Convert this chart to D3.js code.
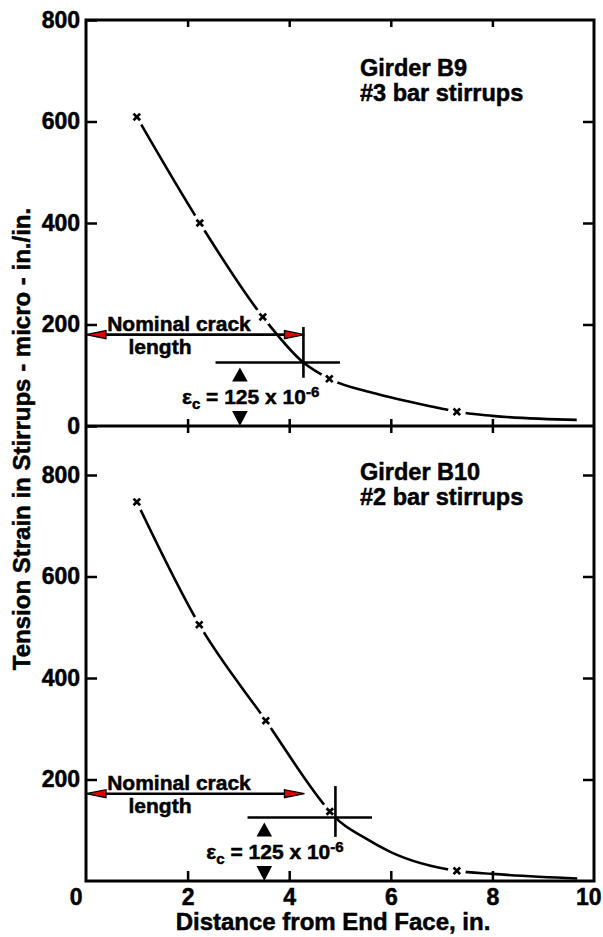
<!DOCTYPE html>
<html>
<head>
<meta charset="utf-8">
<script src="https://cdn.jsdelivr.net/npm/d3@7"></script>
<style>
  body { margin: 0; background: #fff; }
  svg { display: block; }
  text { font-family: "Liberation Sans", Arial, sans-serif; font-weight: bold; fill: #000; stroke: #000; stroke-width: 0.5px; }
</style>
</head>
<body>
<svg id="chart" width="603" height="937"></svg>
<script>
// ---- data ----
const distanceTicks = [0, 2, 4, 6, 8, 10];
const strainTicks = [0, 200, 400, 600, 800];

// Girder B9, #3 bar stirrups: measured gauges and the faired curve through them
const b9Distance = [1.0, 2.24, 3.48, 4.79, 7.3];
const b9Strain = [609, 400, 215, 93, 28];
const b9CurveDistance = [1.0, 2.24, 3.48, 4.28, 4.79, 5.7, 6.97, 7.3, 8.0, 9.66];
const b9CurveStrain = [609, 400, 215, 125, 93, 64, 35, 28, 20, 12];

// Girder B10, #2 bar stirrups
const b10Distance = [1.0, 2.23, 3.54, 4.8, 7.3];
const b10Strain = [747, 505, 316, 137, 20];
const b10CurveDistance = [1.0, 2.23, 3.54, 4.8, 4.91, 5.49, 6.0, 7.3, 8.0, 9.67];
const b10CurveStrain = [747, 505, 316, 137, 125, 85, 57, 20, 14, 5];

// critical strain, micro-in./in.
const criticalStrain = 125;
// crack length where each curve crosses the critical strain, in.
const b9CrackLength = 4.28;
const b10CrackLength = 4.91;

// ---- layout ----
const svg = d3.select("#chart");
const frameL = 86, frameR = 594, frameT = 20, frameM = 426, frameB = 881;

const x = d3.scaleLinear().domain([0, 10]).range([frameL, frameR]);
const yTop = d3.scaleLinear().domain([0, 800]).range([frameM, frameT]);
const yBot = d3.scaleLinear().domain([0, 800]).range([frameB, frameB - (frameM - frameT)]);

const panels = [
  {
    y: yTop, title: ["Girder B9", "#3 bar stirrups"], titleY: [76, 101],
    dist: b9Distance, strain: b9Strain, cDist: b9CurveDistance, cStrain: b9CurveStrain,
    crack: b9CrackLength, vSpan: [95, 195], hSpan: [2.55, 5.0],
    arrowEnd: 4.3, arrowLevel: 180, dimX: 3.03
  },
  {
    y: yBot, title: ["Girder B10", "#2 bar stirrups"], titleY: [480, 505],
    dist: b10Distance, strain: b10Strain, cDist: b10CurveDistance, cStrain: b10CurveStrain,
    crack: b10CrackLength, vSpan: [87, 187], hSpan: [3.18, 5.63],
    arrowEnd: 4.3, arrowLevel: 172, dimX: 3.51
  }
];

const tickFont = g => g.selectAll("text")
  .attr("font-size", 23).attr("font-family", "Liberation Sans, Arial, sans-serif")
  .attr("font-weight", "bold").attr("fill", "#000");
const tickLine = g => { g.select(".domain").remove(); g.selectAll("line").attr("stroke", "#000").attr("stroke-width", 2.5); };

// ---- curves, markers, annotations ----
panels.forEach(p => {
  const g = svg.append("g");
  const line = d3.line().x((d, i) => x(p.cDist[i])).y(d => p.y(d)).curve(d3.curveMonotoneX);
  g.append("path").attr("d", line(p.cStrain))
    .attr("fill", "none").attr("stroke", "#000").attr("stroke-width", 2.6);

  // clear a small gap in the curve around every gauge point
  g.selectAll("circle.gap").data(p.strain).join("circle")
    .attr("cx", (d, i) => x(p.dist[i])).attr("cy", d => p.y(d)).attr("r", 9).attr("fill", "#fff");

  g.selectAll("path.mark").data(p.strain).join("path")
    .attr("d", (d, i) => {
      const cx = x(p.dist[i]), cy = p.y(d), s = 3.3;
      return `M${cx - s},${cy - s}L${cx + s},${cy + s}M${cx - s},${cy + s}L${cx + s},${cy - s}`;
    })
    .attr("stroke", "#000").attr("stroke-width", 2.7).attr("fill", "none");

  // crosshair at the critical strain
  g.append("line").attr("x1", x(p.crack)).attr("x2", x(p.crack))
    .attr("y1", p.y(p.vSpan[0])).attr("y2", p.y(p.vSpan[1]))
    .attr("stroke", "#000").attr("stroke-width", 2.6);
  g.append("line").attr("x1", x(p.hSpan[0])).attr("x2", x(p.hSpan[1]))
    .attr("y1", p.y(criticalStrain)).attr("y2", p.y(criticalStrain))
    .attr("stroke", "#000").attr("stroke-width", 2.6);

  // nominal crack length arrow
  const ay = p.y(p.arrowLevel), ax0 = x(0), ax1 = x(p.arrowEnd), hl = 20, hw = 4;
  g.append("line").attr("x1", ax0 + hl).attr("x2", ax1 - hl).attr("y1", ay).attr("y2", ay)
    .attr("stroke", "#000").attr("stroke-width", 2.6);
  g.append("path").attr("d", `M${ax0},${ay}L${ax0 + hl},${ay - hw}L${ax0 + hl},${ay + hw}Z`)
    .attr("fill", "#e00000").attr("stroke", "#000").attr("stroke-width", 1.3);
  g.append("path").attr("d", `M${ax1},${ay}L${ax1 - hl},${ay - hw}L${ax1 - hl},${ay + hw}Z`)
    .attr("fill", "#e00000").attr("stroke", "#000").attr("stroke-width", 1.3);
  g.append("text").attr("x", ax0 + 93).attr("y", ay - 4).attr("text-anchor", "middle")
    .attr("font-size", 21).text("Nominal crack");
  g.append("text").attr("x", ax0 + 74).attr("y", ay + 19).attr("text-anchor", "middle")
    .attr("font-size", 21).text("length");

  // critical strain dimension triangles
  const dx = x(p.dimX), tw = 7.8;
  const upTip = p.y(criticalStrain) + 5;
  g.append("path").attr("d", `M${dx},${upTip}L${dx + tw},${upTip + 14}L${dx - tw},${upTip + 14}Z`).attr("fill", "#000");
  const dnTip = p.y(0);
  g.append("path").attr("d", `M${dx},${dnTip}L${dx + tw},${dnTip - 15}L${dx - tw},${dnTip - 15}Z`).attr("fill", "#000");

  const eps = g.append("text").attr("x", dx - 58).attr("y", p.y(0) - 22).attr("font-size", 21);
  eps.append("tspan").text("ε");
  eps.append("tspan").attr("dy", 5).attr("font-size", 15).text("c");
  eps.append("tspan").attr("dy", -5).text(" = 125 x 10");
  eps.append("tspan").attr("dy", -7).attr("font-size", 15).text("-6");

  // panel title
  p.title.forEach((t, i) => {
    g.append("text").attr("x", 360).attr("y", p.titleY[i]).attr("font-size", 23.5).text(t);
  });
});

// ---- frame and axes ----
svg.append("rect").attr("x", frameL).attr("y", frameT).attr("width", frameR - frameL).attr("height", frameB - frameT)
  .attr("fill", "none").attr("stroke", "#000").attr("stroke-width", 3);
svg.append("line").attr("x1", frameL).attr("x2", frameR).attr("y1", frameM).attr("y2", frameM)
  .attr("stroke", "#000").attr("stroke-width", 3);

// left strain axes (ticks point inward)
svg.append("g").attr("transform", `translate(${frameL},0)`)
  .call(d3.axisLeft(yTop).tickValues(strainTicks).tickSize(-11).tickPadding(6))
  .call(tickLine).call(tickFont);
svg.append("g").attr("transform", `translate(${frameL},0)`)
  .call(d3.axisLeft(yBot).tickValues(strainTicks.slice(1)).tickSize(-11).tickPadding(6))
  .call(tickLine).call(tickFont);
// right strain axes
svg.append("g").attr("transform", `translate(${frameR},0)`)
  .call(d3.axisRight(yTop).tickValues(strainTicks.slice(1, 4)).tickSize(-11).tickFormat(""))
  .call(tickLine);
svg.append("g").attr("transform", `translate(${frameR},0)`)
  .call(d3.axisRight(yBot).tickValues(strainTicks.slice(1)).tickSize(-11).tickFormat(""))
  .call(tickLine);

const inner = distanceTicks.slice(1, -1);
// top edge
svg.append("g").attr("transform", `translate(0,${frameT})`)
  .call(d3.axisTop(x).tickValues(inner).tickSize(-7).tickFormat("")).call(tickLine);
// shared divider: ticks cross it
svg.append("g").attr("transform", `translate(0,${frameM})`)
  .call(d3.axisTop(x).tickValues(inner).tickSize(7).tickFormat("")).call(tickLine);
svg.append("g").attr("transform", `translate(0,${frameM})`)
  .call(d3.axisBottom(x).tickValues(inner).tickSize(7).tickFormat("")).call(tickLine);
// bottom distance axis
const xAxis = svg.append("g").attr("transform", `translate(0,${frameB})`)
  .call(d3.axisBottom(x).tickValues(distanceTicks).tickSize(-10).tickPadding(8))
  .call(tickLine).call(tickFont);
xAxis.selectAll(".tick").filter(d => d === 0 || d === 10).select("line").remove();
xAxis.selectAll(".tick text").filter(d => d === 0).attr("text-anchor", "end").attr("x", -4);
xAxis.selectAll(".tick text").filter(d => d === 10).attr("text-anchor", "end").attr("x", 7);

// axis titles
svg.append("text").attr("x", 333).attr("y", 930).attr("text-anchor", "middle")
  .attr("font-size", 24).text("Distance from End Face, in.");
svg.append("text").attr("transform", "translate(30,439) rotate(-90)").attr("text-anchor", "middle")
  .attr("font-size", 24).text("Tension Strain in Stirrups - micro - in./in.");
</script>
</body>
</html>
